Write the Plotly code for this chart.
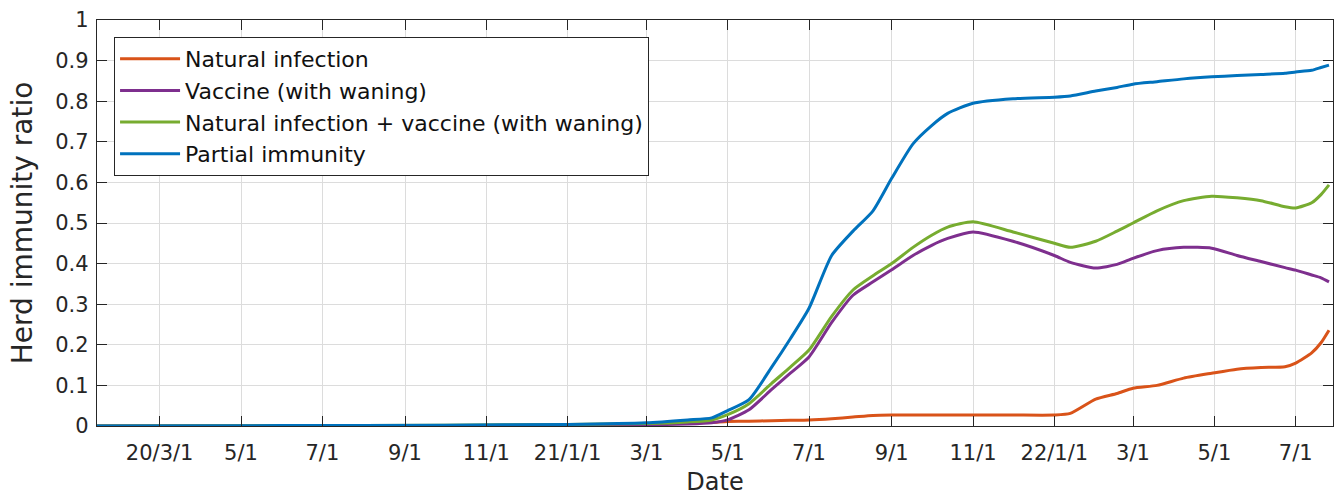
import plotly.graph_objects as go

dates = [
    "2020-01-14", "2020-06-01", "2020-10-01", "2021-01-01", "2021-03-01", "2021-04-01",
    "2021-04-19", "2021-05-01", "2021-05-17", "2021-06-03", "2021-06-17", "2021-07-01",
    "2021-07-18", "2021-08-03", "2021-08-18", "2021-09-01", "2021-09-17", "2021-10-01",
    "2021-10-13", "2021-11-01", "2021-12-01", "2022-01-01", "2022-01-13", "2022-02-01",
    "2022-02-17", "2022-03-01", "2022-03-19", "2022-04-08", "2022-04-29", "2022-05-18",
    "2022-06-05", "2022-06-23", "2022-07-01", "2022-07-13", "2022-07-20", "2022-07-26",
]

natural_infection = [
    0, 0, 0.001, 0.002, 0.004, 0.007,
    0.009, 0.011, 0.012, 0.013, 0.014, 0.015,
    0.018, 0.022, 0.026, 0.027, 0.027, 0.027,
    0.027, 0.027, 0.027, 0.027, 0.031, 0.066,
    0.080, 0.093, 0.100, 0.118, 0.130, 0.140,
    0.144, 0.146, 0.155, 0.180, 0.205, 0.236,
]

vaccine_waning = [
    0, 0, 0.001, 0.002, 0.003, 0.005,
    0.008, 0.015, 0.040, 0.090, 0.130, 0.170,
    0.255, 0.322, 0.355, 0.385, 0.420, 0.445,
    0.462, 0.478, 0.455, 0.420, 0.403, 0.389,
    0.398, 0.413, 0.432, 0.440, 0.438, 0.420,
    0.405, 0.390, 0.384, 0.372, 0.365, 0.355,
]

natural_plus_vaccine = [
    0, 0.001, 0.002, 0.004, 0.006, 0.010,
    0.015, 0.028, 0.055, 0.105, 0.145, 0.187,
    0.270, 0.335, 0.370, 0.400, 0.440, 0.470,
    0.490, 0.503, 0.478, 0.450, 0.440, 0.455,
    0.480, 0.500, 0.530, 0.555, 0.566, 0.562,
    0.555, 0.540, 0.537, 0.550, 0.570, 0.594,
]

partial_immunity = [
    0, 0.001, 0.002, 0.004, 0.008, 0.015,
    0.020, 0.038, 0.065, 0.145, 0.215, 0.290,
    0.420, 0.480, 0.530, 0.610, 0.695, 0.740,
    0.770, 0.795, 0.806, 0.810, 0.813, 0.825,
    0.834, 0.842, 0.848, 0.855, 0.860, 0.863,
    0.866, 0.869, 0.872, 0.876, 0.883, 0.889,
]

series_names = [
    "Natural infection",
    "Vaccine (with waning)",
    "Natural infection + vaccine (with waning)",
    "Partial immunity",
]
series_values = [natural_infection, vaccine_waning, natural_plus_vaccine, partial_immunity]
series_colors = ["#D95319", "#7E2F8E", "#77AC30", "#0072BD"]

tick_dates = [
    "2020-03-01", "2020-05-01", "2020-07-01", "2020-09-01", "2020-11-01",
    "2021-01-01", "2021-03-01", "2021-05-01", "2021-07-01", "2021-09-01", "2021-11-01",
    "2022-01-01", "2022-03-01", "2022-05-01", "2022-07-01",
]
tick_labels = [
    "20/3/1", "5/1", "7/1", "9/1", "11/1",
    "21/1/1", "3/1", "5/1", "7/1", "9/1", "11/1",
    "22/1/1", "3/1", "5/1", "7/1",
]
y_ticks = [0, 0.1, 0.2, 0.3, 0.4, 0.5, 0.6, 0.7, 0.8, 0.9, 1]
y_labels = ["0", "0.1", "0.2", "0.3", "0.4", "0.5", "0.6", "0.7", "0.8", "0.9", "1"]

FONT = "DejaVu Sans"
TXT = "#262626"

fig = go.Figure()
for name, vals, col in zip(series_names, series_values, series_colors):
    fig.add_trace(go.Scatter(
        x=dates, y=vals, mode="lines", name=name,
        line=dict(color=col, width=3, shape="spline", smoothing=0.6),
    ))

fig.update_layout(
    width=1335, height=496,
    margin=dict(l=97, r=2, t=20, b=70),
    paper_bgcolor="white", plot_bgcolor="white",
    font=dict(family=FONT, color=TXT, size=21),
    showlegend=True,
    legend=dict(
        x=0.0138, y=0.958, xanchor="left", yanchor="top",
        bgcolor="white", bordercolor=TXT, borderwidth=1,
        font=dict(family=FONT, size=22, color="#111111"),
        tracegroupgap=0, itemwidth=60,
    ),
)

fig.update_xaxes(
    type="date",
    range=["2020-01-14", "2022-07-29"],
    tickvals=tick_dates, ticktext=tick_labels,
    ticks="inside", ticklen=10, tickcolor=TXT, tickwidth=1.3,
    showline=True, linecolor=TXT, linewidth=1.3, mirror="ticks",
    showgrid=True, gridcolor="#dcdcdc", gridwidth=1,
    zeroline=False,
    ticklabelstandoff=8,
    tickfont=dict(family=FONT, size=21, color=TXT),
    title=dict(text="Date", font=dict(family=FONT, size=24, color=TXT), standoff=9),
)
fig.update_yaxes(
    range=[0, 1],
    tickvals=y_ticks, ticktext=y_labels,
    ticks="inside", ticklen=10, tickcolor=TXT, tickwidth=1.3,
    showline=True, linecolor=TXT, linewidth=1.3, mirror="ticks",
    showgrid=True, gridcolor="#dcdcdc", gridwidth=1,
    zeroline=False,
    ticklabelstandoff=3,
    tickfont=dict(family=FONT, size=21, color=TXT),
    title=dict(text="Herd immunity ratio", font=dict(family=FONT, size=28, color=TXT), standoff=14),
)

fig.write_html("out.html")
